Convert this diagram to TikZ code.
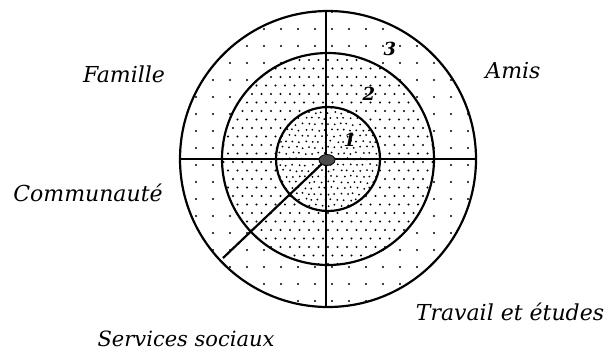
\documentclass[tikz,border=0pt]{standalone}
\usepackage{fontspec}
\setmainfont{DejaVu Serif}
\usetikzlibrary{calc,shapes.geometric}
\begin{document}
\begin{tikzpicture}[x=1pt,y=-1pt,
  ring/.style={line width=2.2pt,black},
  spoke/.style={line width=2.2pt,black},
  lbl/.style={font=\itshape\fontsize{22}{22}\selectfont,inner sep=0pt},
  num/.style={font=\bfseries\itshape\fontsize{18}{18}\selectfont,inner sep=0pt},
  dot/.style={fill=black}]
\useasboundingbox (0,0) rectangle (606,354);
\coordinate (c) at (328,159);
% outer ring dots
\begin{scope}
  \clip (c) circle (148);
  \foreach \i in {-9,...,9}{\foreach \j in {-9,...,9}{
    \fill[dot] ($(c)+(\i*17+4,\j*17+6)$) circle (1.2);}}
\end{scope}
% middle area
\fill[white] (c) circle (106);
\begin{scope}
  \clip (c) circle (106);
  \foreach \i in {-11,...,11}{\foreach \j in {-12,...,12}{
    \pgfmathsetmacro{\off}{mod(abs(\j),2)*4.5}
    \fill[dot] ($(c)+(\i*9.5+\off,\j*8.5+3)$) circle (1.05);}}
\end{scope}
% inner area
\fill[white] (c) circle (52);
\begin{scope}
  \clip (c) circle (52);
  \foreach \i in {-9,...,9}{\foreach \j in {-10,...,10}{
    \pgfmathsetmacro{\off}{mod(abs(\j),2)*3.2}
    \pgfmathsetmacro{\rx}{rnd*2-1}
    \pgfmathsetmacro{\ry}{rnd*2-1}
    \fill[dot] ($(c)+(\i*6.4+\off+\rx,\j*5.8+\ry)$) circle (1.0);}}
\end{scope}
% circles
\draw[ring] (c) circle (148);
\draw[ring] (c) circle (106);
\draw[ring] (c) circle (52);
% spokes
\coordinate (L) at ($(c)+(-148,0)$);
\coordinate (R) at ($(c)+(148,0)$);
\coordinate (T) at ($(c)+(-2,-148)$);
\coordinate (B) at ($(c)+(-2,148)$);
\coordinate (D) at ($(c)+(-105,99)$);
\draw[spoke] (L) -- (R);
\draw[spoke] (T) -- (B);
\draw[spoke] ($(c)+(-1,0)$) -- (D);
% center blob
\node[ellipse,minimum width=16,minimum height=11,draw,line width=0.8pt,fill=black!70,inner sep=0pt] (hub) at ($(c)+(-1,1)$) {};
% numbers
\node[num] (n1) at (350,140) {1};
\node[num] (n2) at (369,94) {2};
\node[num] (n3) at (390,49) {3};
% labels
\node[lbl] (fam) at (124,74) {Famille};
\node[lbl] (amis) at (513,71) {Amis};
\node[lbl] (com) at (88,193) {Communauté};
\node[lbl] (trav) at (510,312) {Travail et études};
\node[lbl,font=\itshape\fontsize{21}{21}\selectfont] (serv) at (186,339) {Services sociaux};
\end{tikzpicture}
\end{document}
